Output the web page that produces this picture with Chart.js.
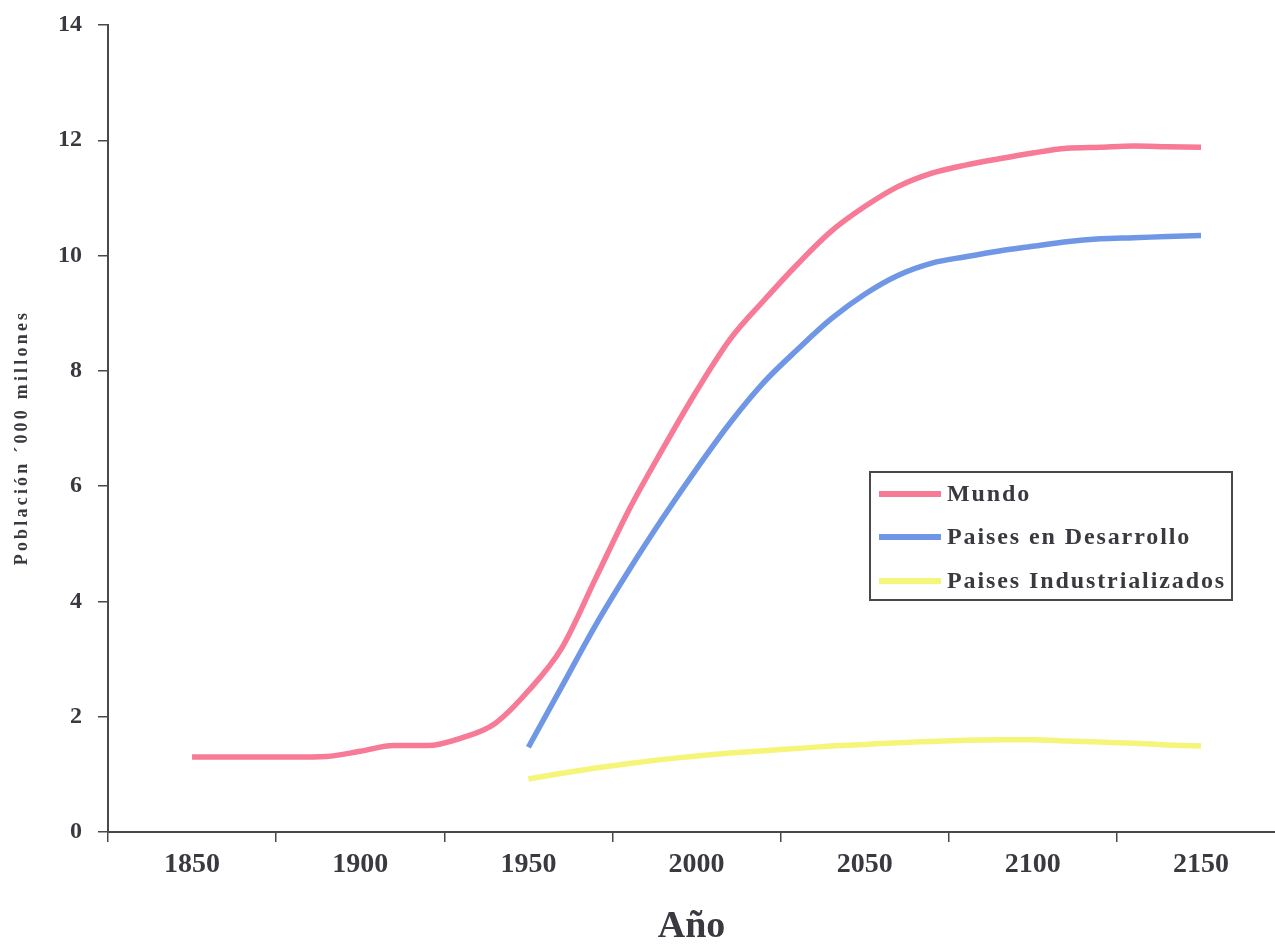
<!DOCTYPE html>
<html>
<head>
<meta charset="utf-8">
<script src="https://cdn.jsdelivr.net/npm/chart.js@4.4.1/dist/chart.umd.min.js"></script>
<style>
  html, body { margin: 0; padding: 0; background: #ffffff; overflow: hidden; }
  #wrap { width: 1275px; height: 945px; position: relative; }
</style>
</head>
<body>
<div id="wrap"><canvas id="c"></canvas></div>
<script>
// ---- data ----
const tickYears = [1850, 1900, 1950, 2000, 2050, 2100, 2150];
const yTicks = [0, 2, 4, 6, 8, 10, 12, 14];

const mundoYears = [1850, 1860, 1870, 1880, 1890, 1900, 1910, 1920, 1930, 1940,
                    1950, 1960, 1970, 1980, 1990, 2000, 2010, 2020, 2030, 2040,
                    2050, 2060, 2070, 2080, 2090, 2100, 2110, 2120, 2130, 2140, 2150];
const mundoValues = [1.30, 1.30, 1.30, 1.30, 1.31, 1.40, 1.50, 1.50, 1.63, 1.88,
                     2.45, 3.20, 4.40, 5.60, 6.65, 7.65, 8.55, 9.22, 9.85, 10.42,
                     10.85, 11.20, 11.43, 11.57, 11.68, 11.78, 11.86, 11.88, 11.90, 11.89, 11.88];

const devYears = [1950, 1960, 1970, 1980, 1990, 2000, 2010, 2020, 2030, 2040,
                  2050, 2060, 2070, 2080, 2090, 2100, 2110, 2120, 2130, 2140, 2150];
const devValues = [1.47, 2.53, 3.59, 4.55, 5.45, 6.30, 7.10, 7.80, 8.37, 8.90,
                   9.33, 9.66, 9.87, 9.98, 10.08, 10.16, 10.24, 10.29, 10.31, 10.33, 10.35];
const indValues = [0.92, 1.02, 1.11, 1.19, 1.26, 1.32, 1.37, 1.41, 1.45, 1.49,
                   1.52, 1.55, 1.57, 1.59, 1.60, 1.60, 1.58, 1.56, 1.54, 1.51, 1.49];

const seriesLabels = ['Mundo', 'Paises en Desarrollo', 'Paises Industrializados'];
const seriesColors = ['#f77a96', '#6f97e6', '#f5f57a'];

const xTitle = 'Año';
const yTitle = 'Población ´000 millones';

// ---- styling ----
const FONT = '"Liberation Serif", "Times New Roman", serif';
const TEXT = '#3b3940';
const AXIS = '#4a474d';

function pts(xs, ys) { return xs.map((x, i) => ({ x: x, y: ys[i] })); }

const yTitlePlugin = {
  id: 'yTitle',
  afterDraw(chart) {
    const ctx = chart.ctx;
    const a = chart.chartArea;
    ctx.save();
    ctx.translate(22, (a.top + a.bottom) / 2 + 9);
    ctx.rotate(-Math.PI / 2);
    ctx.font = 'bold 18px ' + FONT;
    if ('letterSpacing' in ctx) ctx.letterSpacing = '3.2px';
    ctx.fillStyle = TEXT;
    ctx.textAlign = 'center';
    ctx.textBaseline = 'middle';
    ctx.fillText(yTitle, 0, 0);
    ctx.restore();
  }
};

const boxLegendPlugin = {
  id: 'boxLegend',
  afterDraw(chart) {
    const ctx = chart.ctx;
    const bx = 870, by = 472, bw = 362, bh = 128;
    ctx.save();
    ctx.strokeStyle = AXIS;
    ctx.lineWidth = 2;
    ctx.strokeRect(bx, by, bw, bh);
    const rows = [494, 537, 581];
    chart.data.datasets.forEach((ds, i) => {
      const y = rows[i];
      ctx.strokeStyle = ds.borderColor;
      ctx.lineWidth = 6;
      ctx.beginPath();
      ctx.moveTo(879, y);
      ctx.lineTo(941, y);
      ctx.stroke();
      ctx.font = 'bold 24px ' + FONT;
      if ('letterSpacing' in ctx) ctx.letterSpacing = '1.9px';
      ctx.fillStyle = TEXT;
      ctx.textAlign = 'left';
      ctx.textBaseline = 'middle';
      ctx.fillText(ds.label, 947, y + 1);
    });
    ctx.restore();
  }
};

new Chart(document.getElementById('c'), {
  type: 'line',
  data: {
    datasets: [
      { label: seriesLabels[0], data: pts(mundoYears, mundoValues), borderColor: seriesColors[0] },
      { label: seriesLabels[1], data: pts(devYears, devValues), borderColor: seriesColors[1] },
      { label: seriesLabels[2], data: pts(devYears, indValues), borderColor: seriesColors[2] }
    ]
  },
  options: {
    responsive: true,
    maintainAspectRatio: false,
    animation: false,
    layout: { padding: { top: 25, left: 0, right: 0, bottom: 0 } },
    elements: {
      line: { borderWidth: 5.5, tension: 0.4, cubicInterpolationMode: 'monotone', fill: false },
      point: { radius: 0, hoverRadius: 0 }
    },
    plugins: { legend: { display: false }, tooltip: { enabled: false } },
    scales: {
      x: {
        type: 'linear',
        min: 1825,
        max: 2172,
        afterBuildTicks(scale) {
          const t = [];
          tickYears.forEach(yr => { t.push({ value: yr - 25 }); t.push({ value: yr }); });
          scale.ticks = t;
        },
        afterFit(scale) { scale.height = 113; scale.paddingLeft = 0; scale.paddingRight = 0; },
        ticks: {
          autoSkip: false,
          maxRotation: 0,
          padding: 6,
          color: TEXT,
          font: { family: FONT, size: 28, weight: 'bold' },
          callback: (v) => tickYears.includes(v) ? String(v) : ''
        },
        grid: {
          drawOnChartArea: false,
          drawTicks: true,
          tickLength: 10,
          lineWidth: 1.5,
          tickColor: (c) => (c.tick && tickYears.includes(c.tick.value)) ? 'transparent' : AXIS
        },
        border: { display: true, color: AXIS, width: 2 },
        title: {
          display: true,
          text: xTitle,
          color: TEXT,
          font: { family: FONT, size: 38, weight: 'bold' },
          padding: { top: 0, bottom: -5 }
        }
      },
      y: {
        min: 0,
        max: 14,
        afterBuildTicks(scale) { scale.ticks = yTicks.map(v => ({ value: v })); },
        afterFit(scale) { scale.width = 108; scale.paddingTop = 0; scale.paddingBottom = 0; },
        ticks: {
          padding: 16,
          color: TEXT,
          font: { family: FONT, size: 24, weight: 'bold' }
        },
        grid: {
          drawOnChartArea: false,
          drawTicks: true,
          tickLength: 10,
          lineWidth: 1.5,
          tickColor: AXIS
        },
        border: { display: true, color: AXIS, width: 2 },
        title: { display: false }
      }
    }
  },
  plugins: [yTitlePlugin, boxLegendPlugin]
});
</script>
</body>
</html>
